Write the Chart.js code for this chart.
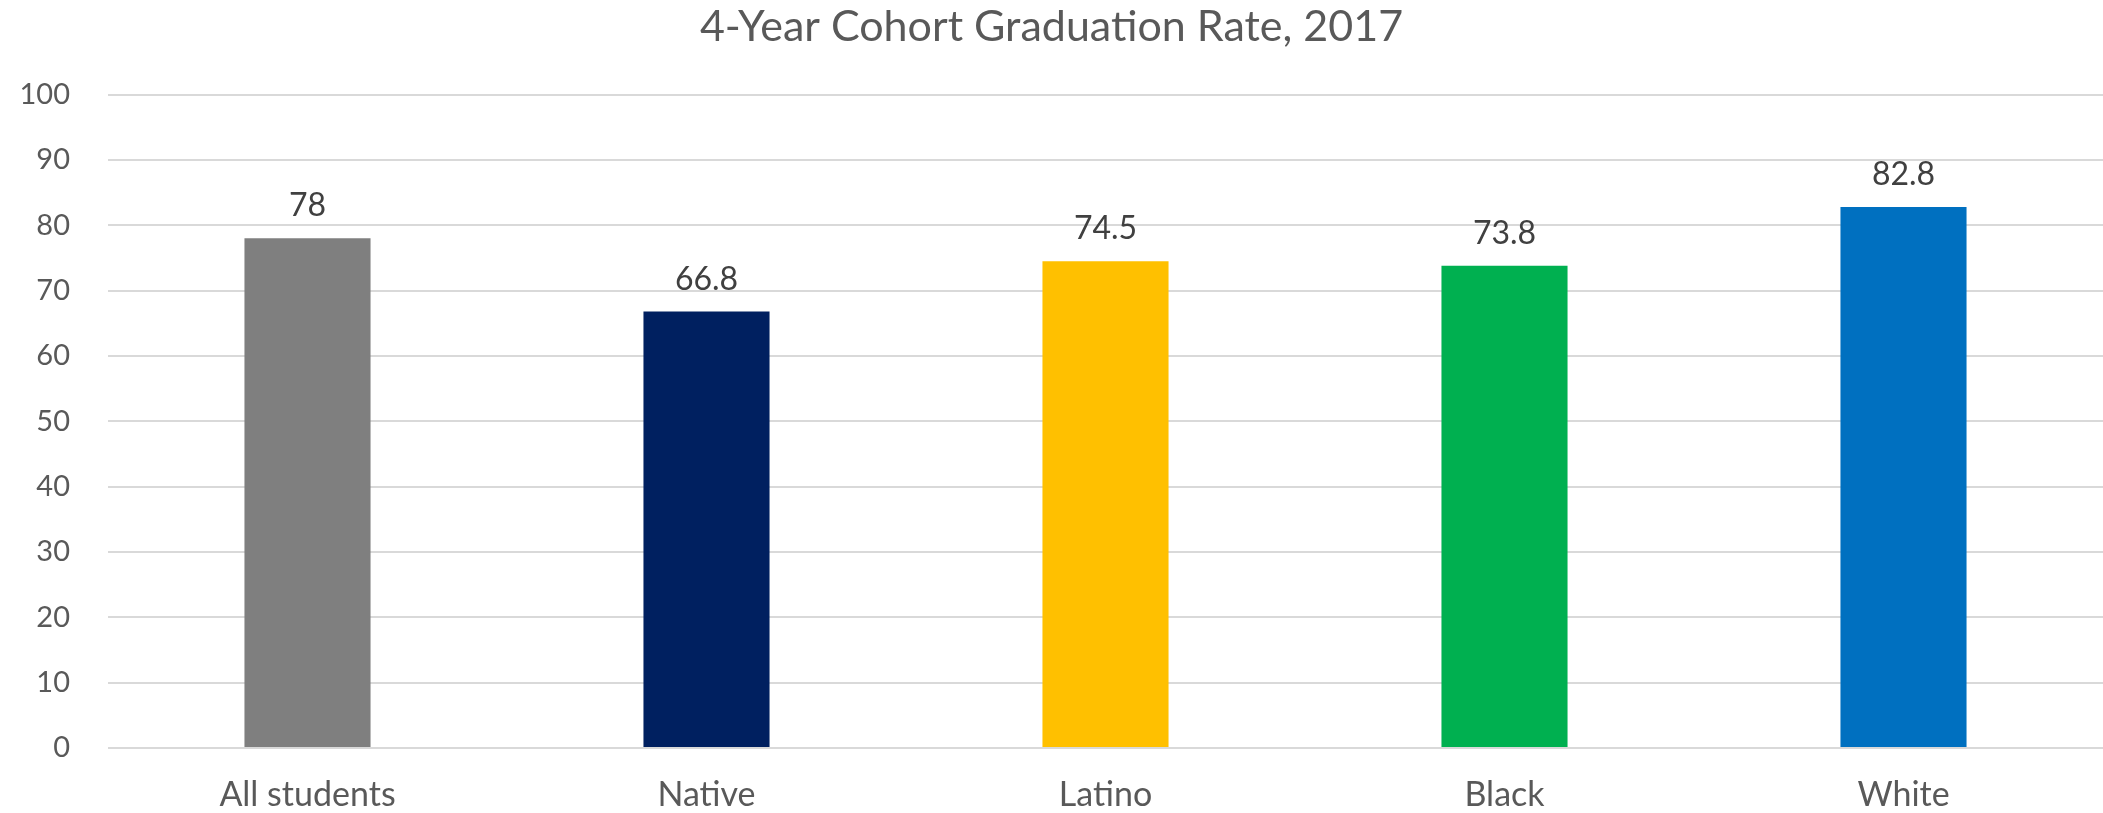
<!DOCTYPE html>
<html>
<head>
<meta charset="utf-8">
<script src="https://cdn.jsdelivr.net/npm/chart.js@4/dist/chart.umd.min.js"></script>
<style>
  body { margin: 0; background: #fff; }
</style>
</head>
<body>
<canvas id="myChart" width="2103" height="813"></canvas>
<script>
const categories = ["All students", "Native", "Latino", "Black", "White"];
const rates = [78, 66.8, 74.5, 73.8, 82.8];
const barColors = ["#7F7F7F", "#002060", "#FFC000", "#00B050", "#0070C0"];
const yTicks = [0, 10, 20, 30, 40, 50, 60, 70, 80, 90, 100];

const fontFamily = "Lato, 'Open Sans', sans-serif";

// draws the value above each bar
const valueLabels = {
  id: "valueLabels",
  afterDatasetsDraw(chart) {
    const c = chart.ctx;
    const meta = chart.getDatasetMeta(0);
    c.save();
    c.font = `32px ${fontFamily}`;
    c.fillStyle = "#404040";
    c.textAlign = "center";
    c.textBaseline = "alphabetic";
    meta.data.forEach((bar, i) => {
      c.fillText(String(rates[i]), bar.x, bar.y - 22);
    });
    c.restore();
  },
};

const ctx = document.getElementById("myChart");

const data = {
  labels: categories,
  datasets: [
    {
      data: rates,
      backgroundColor: barColors,
      borderWidth: 0,
      categoryPercentage: 1,
      barPercentage: 0.316,
    },
  ],
};

const options = {
  responsive: false,
  animation: false,
  layout: { padding: { left: 0, right: 0, top: 0, bottom: 0 } },
  plugins: {
    legend: { display: false },
    tooltip: { enabled: false },
    title: {
      display: true,
      text: "4-Year Cohort Graduation Rate, 2017",
      color: "#595959",
      font: { family: fontFamily, size: 43, weight: "normal" },
      padding: { top: 1, bottom: 42 },
    },
  },
  scales: {
    x: {
      grid: { display: false },
      border: { display: false },
      ticks: {
        color: "#595959",
        font: { family: fontFamily, size: 34 },
        padding: 19,
      },
      afterFit(scale) {
        scale.height = 65;
      },
    },
    y: {
      min: 0,
      max: 100,
      afterBuildTicks(scale) {
        scale.ticks = yTicks.map((v) => ({ value: v }));
      },
      grid: { color: "#D9D9D9", lineWidth: 2, drawTicks: false },
      border: { display: false },
      ticks: {
        color: "#595959",
        font: { family: fontFamily, size: 29 },
        padding: 38,
      },
      afterFit(scale) {
        scale.width = 108;
      },
    },
  },
};

const config = {
  type: "bar",
  data,
  options,
  plugins: [valueLabels],
};

const myBarChart = new Chart(ctx, config);
</script>
</body>
</html>
